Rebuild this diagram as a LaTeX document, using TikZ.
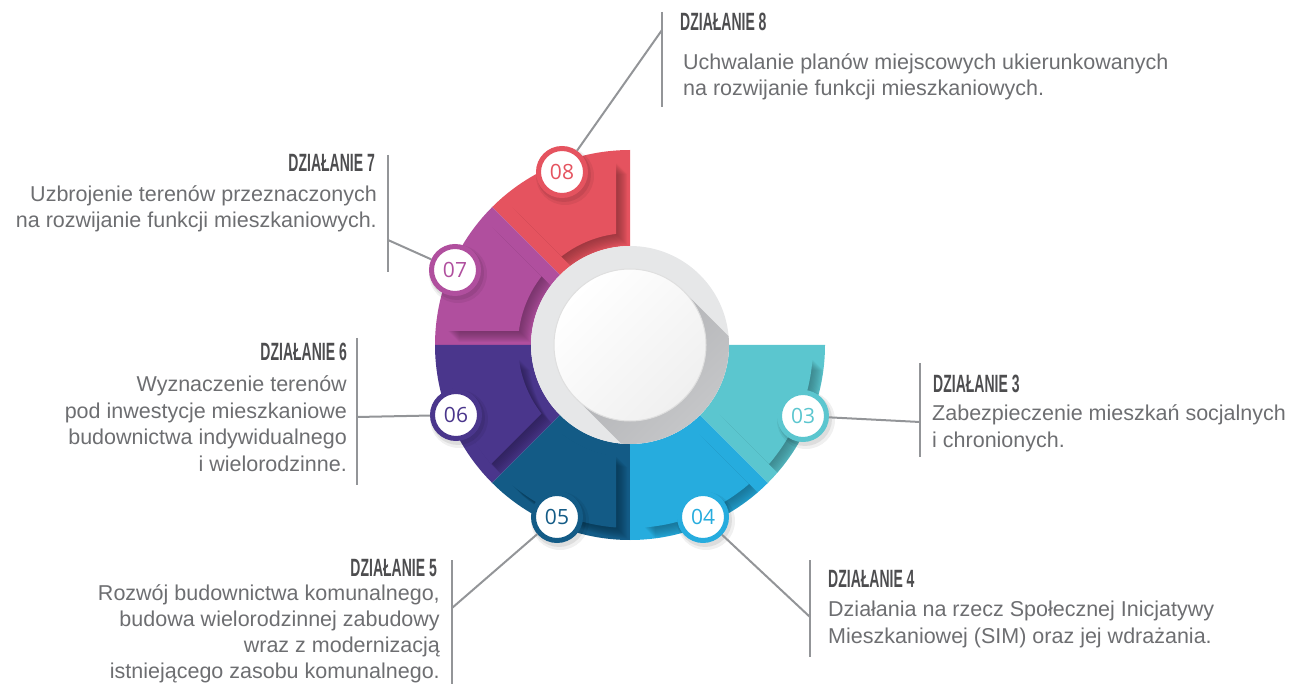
\documentclass[tikz,border=0pt]{standalone}
\usepackage{fontspec}
\setmainfont{Liberation Sans}
\newfontfamily\headfont[FakeStretch=0.56]{Liberation Sans Bold}
\newfontfamily\numfont{Open Sans}
\usepackage{xcolor}

\definecolor{seg8}{HTML}{E5535F}
\definecolor{seg7}{HTML}{B04F9E}
\definecolor{seg6}{HTML}{4A368C}
\definecolor{seg5}{HTML}{135B86}
\definecolor{seg4}{HTML}{26ACDE}
\definecolor{seg3}{HTML}{5BC6CF}
\definecolor{headgray}{HTML}{4D4D4F}
\definecolor{bodygray}{HTML}{6D6E71}
\definecolor{leadgray}{HTML}{939598}
\definecolor{ringgray}{HTML}{E6E7E8}
\definecolor{shdark}{HTML}{B0B1B4}
\definecolor{shlight}{HTML}{DADBDC}

% raised part of a segment: #1 start angle, #2 fill options
\newcommand{\raisedpart}[2]{%
  \begin{scope}
    \clip (#1+22.5:36.6) -- +(#1:320) -- +(#1+22.5:420) -- +(#1+45:320) -- cycle;
    \fill[#2, even odd rule] (0,0) circle[radius=183] (0,0) circle[radius=112];
  \end{scope}}

% one segment of the ring: #1 start angle, #2 colour
\newcommand{\segment}[2]{%
  \fill[#2] (#1:99) arc[start angle=#1, end angle=#1+45, radius=99]
    -- (#1+45:195) arc[start angle=#1+45, end angle=#1, radius=195] -- cycle;
  \begin{scope}
    \clip (#1:99) arc[start angle=#1, end angle=#1+45, radius=99]
      -- (#1+45:195) arc[start angle=#1+45, end angle=#1, radius=195] -- cycle;
    \foreach \d in {1,...,11}{
      \begin{scope}[shift={(\d,-\d)}]
        \raisedpart{#1}{#2!50!black, opacity=0.07}
      \end{scope}}
  \end{scope}
  \raisedpart{#1}{#2}}

\begin{document}
\begin{tikzpicture}[x=1pt, y=1pt,
  head/.style={font=\headfont\fontsize{25}{25}\selectfont, text=headgray, inner sep=0},
  body/.style={font=\fontsize{21.5}{26.5}\selectfont, text=bodygray, inner sep=0},
  leader/.style={draw=leadgray, line width=2pt},
  badge/.style={circle, draw=#1, line width=5pt, fill=white, text=#1,
    minimum size=47pt, inner sep=0, font=\numfont\fontsize{21}{21}\selectfont}]

\useasboundingbox (0,0) rectangle (1301,-684);

% ring of segments
\begin{scope}[shift={(630,-345)}]
  \segment{90}{seg8}
  \segment{135}{seg7}
  \segment{180}{seg6}
  \segment{225}{seg5}
  \segment{270}{seg4}
  \segment{315}{seg3}
  \fill[ringgray] (0,0) circle[radius=99];
  \begin{scope}
    \clip (0,0) circle[radius=99];
    \shade[top color=shdark, bottom color=shlight, shading angle=45]
      (45:76) -- ++(-45:200) -- ++(225:152) -- (225:76) -- cycle;
  \end{scope}
  \shade[top color=white, bottom color=gray!12, shading angle=45] (0,0) circle[radius=76];
  \draw[gray!25, line width=1pt] (0,0) circle[radius=76];
\end{scope}

% badge shadows
\foreach \p in {(562,-172),(455,-270),(456,-415),(557,-517),(703,-517),(803,-416)}{
  \fill[black, opacity=0.06] \p ++(3,-4) circle[radius=29];
  \fill[black, opacity=0.08] \p ++(2,-3) circle[radius=27];
}

% leader bars
\draw[leader] (662,-12) -- (662,-107);
\draw[leader] (388,-155) -- (388,-272);
\draw[leader] (357,-338) -- (357,-485);
\draw[leader] (452,-560) -- (452,-684);
\draw[leader] (810,-560) -- (810,-657);
\draw[leader] (920,-363) -- (920,-457);

\coordinate (j8) at (662,-30);
\coordinate (j7) at (388,-240);
\coordinate (j6) at (357,-417);
\coordinate (j5) at (452,-608);
\coordinate (j4) at (810,-617);
\coordinate (j3) at (920,-422);

% badges
\node[badge=seg8] (b8) at (562,-172) {08};
\node[badge=seg7] (b7) at (455,-270) {07};
\node[badge=seg6] (b6) at (456,-415) {06};
\node[badge=seg5] (b5) at (557,-517) {05};
\node[badge=seg4] (b4) at (703,-517) {04};
\node[badge=seg3] (b3) at (803,-416) {03};

\draw[leader] (b8) -- (j8);
\draw[leader] (b7) -- (j7);
\draw[leader] (b6) -- (j6);
\draw[leader] (b5) -- (j5);
\draw[leader] (b4) -- (j4);
\draw[leader] (b3) -- (j3);

% texts (multi-line nodes sit on their last baseline)
\node[head, anchor=base west] (h8) at (680,-31) {DZIAŁANIE 8};
\node[body, anchor=base west, align=left] (t8) at (683,-96)
  {Uchwalanie planów miejscowych ukierunkowanych\\na rozwijanie funkcji mieszkaniowych.};

\node[head, anchor=base east] (h7) at (375,-172) {DZIAŁANIE 7};
\node[body, anchor=base east, align=right] (t7) at (377,-228)
  {Uzbrojenie terenów przeznaczonych\\na rozwijanie funkcji mieszkaniowych.};

\node[head, anchor=base east] (h6) at (347,-361) {DZIAŁANIE 6};
\node[body, anchor=base east, align=right] (t6) at (347,-471)
  {Wyznaczenie terenów\\pod inwestycje mieszkaniowe\\budownictwa indywidualnego\\i wielorodzinne.};

\node[head, anchor=base east] (h5) at (437,-576) {DZIAŁANIE 5};
\node[body, anchor=base east, align=right, font=\fontsize{21.5}{26}\selectfont] (t5) at (440,-678)
  {Rozwój budownictwa komunalnego,\\budowa wielorodzinnej zabudowy\\wraz z modernizacją\\istniejącego zasobu komunalnego.};

\node[head, anchor=base west] (h4) at (828,-587) {DZIAŁANIE 4};
\node[body, anchor=base west, align=left] (t4) at (828,-643)
  {Działania na rzecz Społecznej Inicjatywy\\Mieszkaniowej (SIM) oraz jej wdrażania.};

\node[head, anchor=base west] (h3) at (933,-392) {DZIAŁANIE 3};
\node[body, anchor=base west, align=left] (t3) at (932,-447)
  {Zabezpieczenie mieszkań socjalnych\\i chronionych.};
\end{tikzpicture}
\end{document}
